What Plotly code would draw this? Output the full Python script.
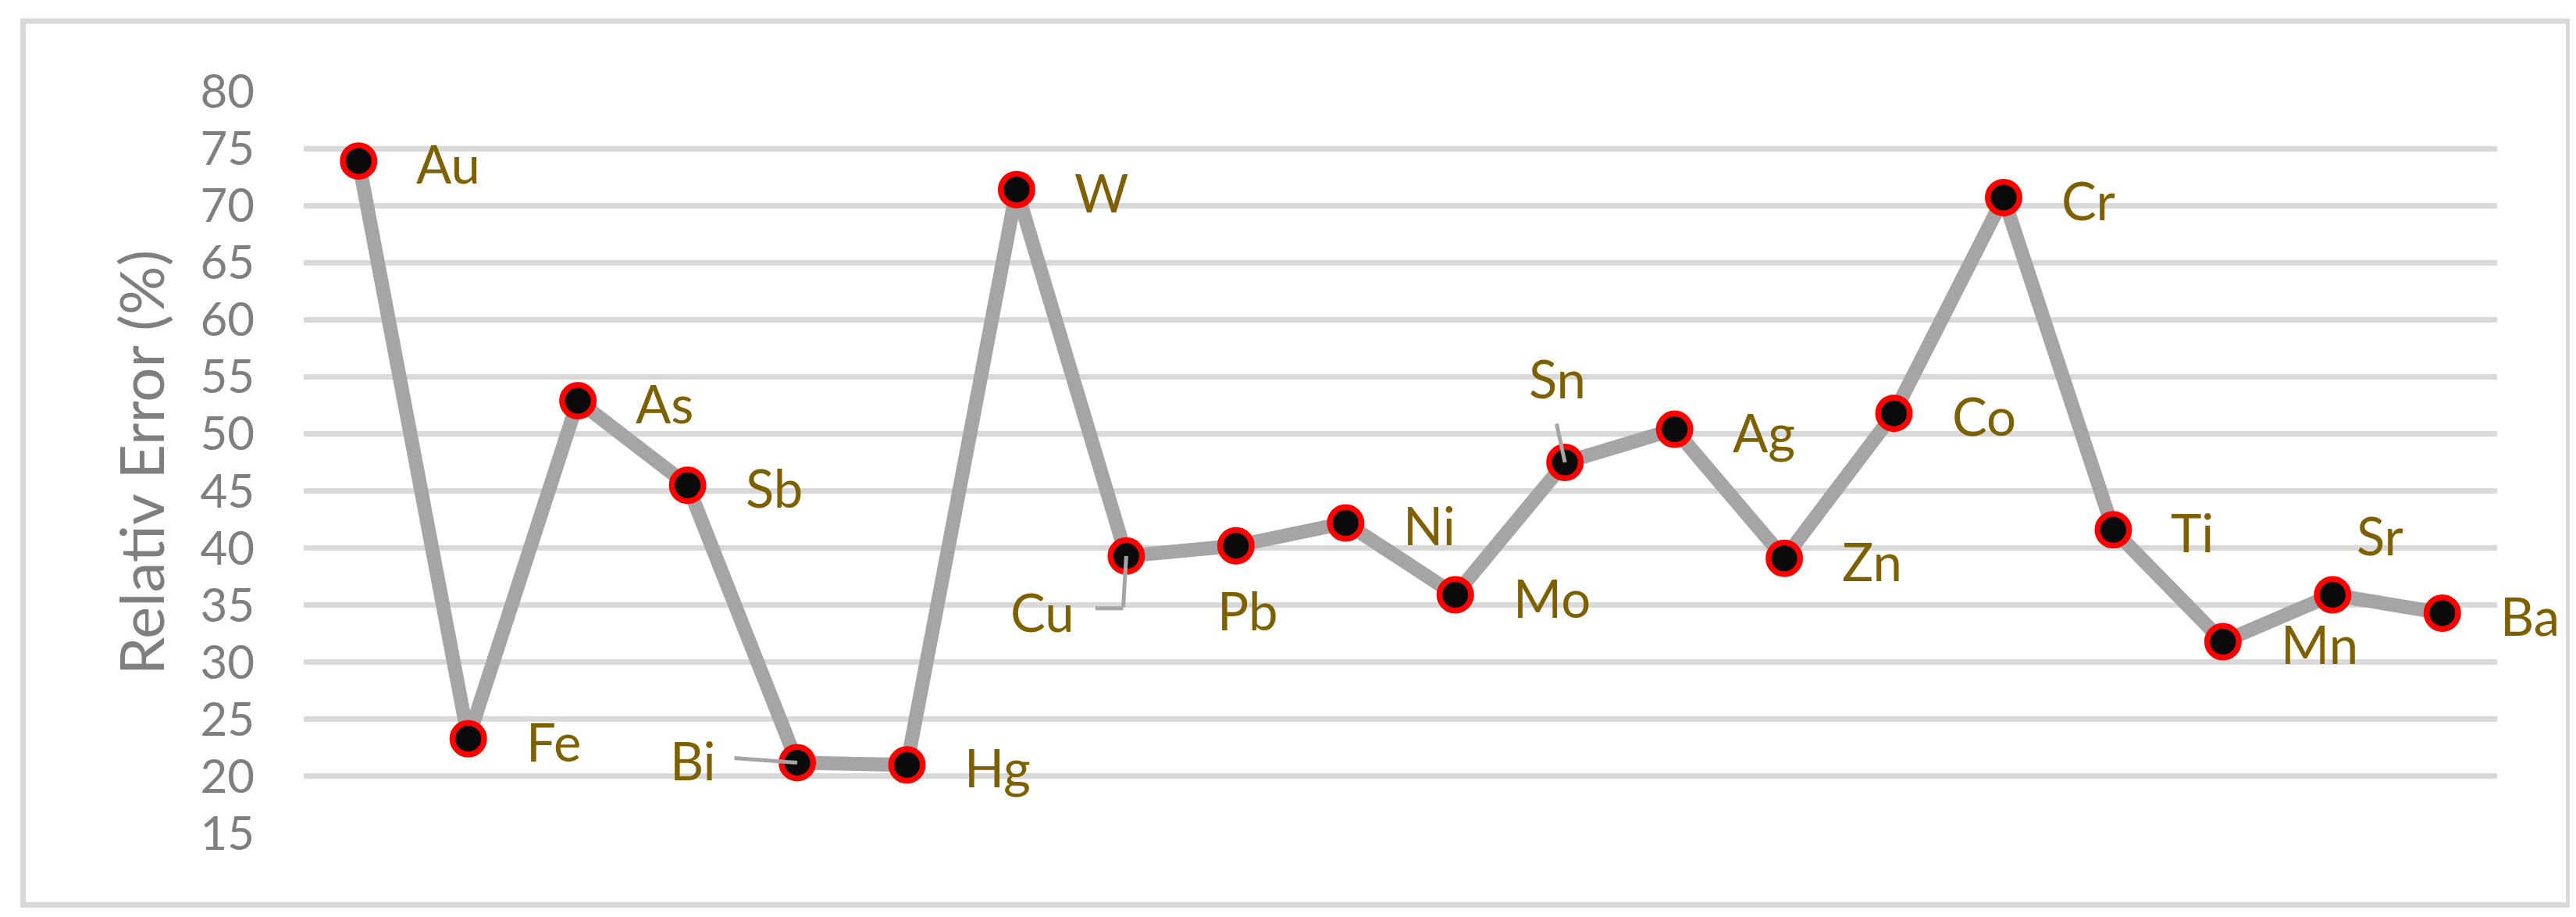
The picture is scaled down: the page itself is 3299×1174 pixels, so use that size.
import plotly.graph_objects as go

# ---- data ----
elements = ["Au", "Fe", "As", "Sb", "Bi", "Hg", "W", "Cu", "Pb", "Ni",
            "Mo", "Sn", "Ag", "Zn", "Co", "Cr", "Ti", "Mn", "Sr", "Ba"]
rel_error = [73.9, 23.3, 52.9, 45.5, 21.2, 21.0, 71.4, 39.3, 40.2, 42.2,
             35.9, 47.5, 50.4, 39.1, 51.8, 70.7, 41.6, 31.8, 35.9, 34.3]
y_ticks = [15, 20, 25, 30, 35, 40, 45, 50, 55, 60, 65, 70, 75, 80]
y_title = "Relativ Error (%)"

# ---- styles ----
FONT = "Lato"
LABEL_COLOR = "#7F6000"
GRAY_TXT = "#7F7F7F"
LINE_GRAY = "#A5A5A5"
GRID = "#D9D9D9"

W, H = 3299, 1174
ML, MR, MT, MB = 381, 109, 109, 115

fig = go.Figure()
fig.add_trace(go.Scatter(
    x=elements, y=rel_error, mode="lines+markers",
    line=dict(color=LINE_GRAY, width=18),
    marker=dict(size=40.5, color="#0A0A0A", line=dict(color="#FF0000", width=7.5)),
    cliponaxis=False, showlegend=False, hoverinfo="x+y",
))

# data-label placement (pixel offsets, plotly yshift positive = up)
default_place = dict(xanchor="left", xshift=72, yshift=-3)
special_place = {
    "Bi": dict(xanchor="center", xshift=-134, yshift=3),
    "Cu": dict(xanchor="center", xshift=-107, yshift=-71),
    "Pb": dict(xanchor="center", xshift=15, yshift=-82),
    "Sn": dict(xanchor="center", xshift=-10, yshift=108),
    "Sr": dict(xanchor="left", xshift=29, yshift=77),
}
annotations = []
for el, v in zip(elements, rel_error):
    p = special_place.get(el, default_place)
    annotations.append(dict(
        x=el, y=v, xref="x", yref="y", text=el, showarrow=False,
        xanchor=p["xanchor"], yanchor="middle",
        xshift=p["xshift"], yshift=p["yshift"],
        font=dict(family=FONT, size=67, color=LABEL_COLOR),
    ))

# leader lines (tail offset ax/ay in px relative to the head)
leaders = [
    ("Bi", -82, -6, 0, 0),
    ("Cu", -4, 67, 0, 0),
    ("Cu", -37, 0, -4, -67),
    ("Sn", -11, -51, 0, 0),
]
val = dict(zip(elements, rel_error))
for el, ax, ay, xs, ys in leaders:
    annotations.append(dict(
        x=el, y=val[el], xref="x", yref="y", text="", showarrow=True,
        ax=ax, ay=ay, xshift=xs, yshift=ys, arrowhead=0, arrowwidth=5,
        arrowcolor=LINE_GRAY, standoff=0, startstandoff=0,
    ))

fig.update_layout(
    width=W, height=H,
    margin=dict(l=ML, r=MR, t=MT, b=MB, pad=0),
    paper_bgcolor="white", plot_bgcolor="white",
    annotations=annotations,
    shapes=[dict(
        type="rect", xref="paper", yref="paper",
        x0=(21.5 - ML) / (W - ML - MR), x1=(3281.5 - ML) / (W - ML - MR),
        y0=(H - MB - 1150.5) / (H - MT - MB), y1=(H - MB - 19) / (H - MT - MB),
        line=dict(color=GRID, width=7), fillcolor="rgba(0,0,0,0)", layer="below",
    )],
    xaxis=dict(
        type="category", range=[-0.5, len(elements) - 0.5],
        showgrid=False, showticklabels=False, showline=False, zeroline=False,
        ticks="",
    ),
    yaxis=dict(
        range=[15, 80], tickvals=y_ticks, ticktext=[str(t) for t in y_ticks],
        showgrid=True, gridcolor=GRID, gridwidth=7,
        showline=False, zeroline=False, ticks="",
        tickfont=dict(family=FONT, size=60, color=GRAY_TXT),
        ticklabelstandoff=62,
        title=dict(text=y_title, standoff=20,
                   font=dict(family=FONT, size=78, color=GRAY_TXT)),
    ),
)

fig.write_html("out.html")
